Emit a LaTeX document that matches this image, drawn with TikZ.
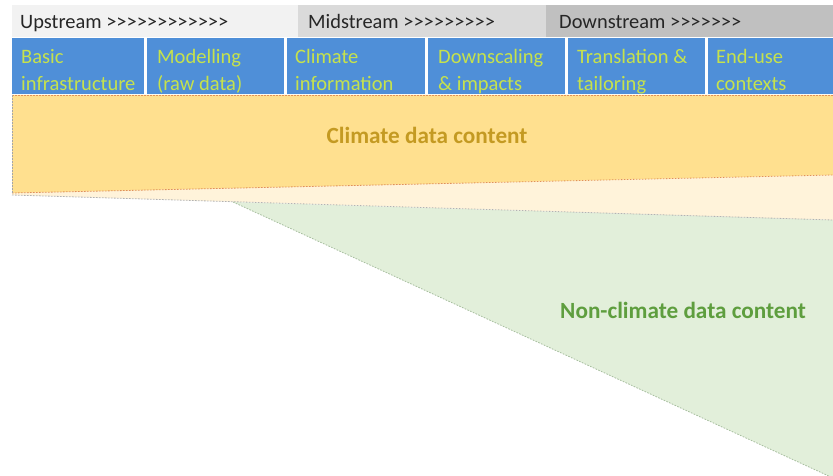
\documentclass[tikz,border=0pt]{standalone}
\usepackage{fontspec}
\setmainfont{Carlito}[Ligatures=TeXOff]
\begin{document}
\begin{tikzpicture}[x=1bp,y=-1bp,
  headtext/.style={anchor=base west,inner sep=0pt,text=headink,font=\fontsize{20.5}{22}\selectfont},
  celltxt/.style={anchor=north west,inner sep=0pt,align=left,text=cellink,font=\fontsize{20.6}{27}\selectfont},
  bigtext/.style={inner sep=0pt,font=\fontsize{23.3}{26}\selectfont\bfseries},
  dashline/.style={line width=0.8bp,dash pattern=on 1.6bp off 1.4bp}]
\definecolor{upband}{HTML}{F2F2F2}
\definecolor{midband}{HTML}{DADADA}
\definecolor{downband}{HTML}{C0C0C0}
\definecolor{headink}{HTML}{262626}
\definecolor{cellblue}{HTML}{4F8FD8}
\definecolor{cellink}{HTML}{C6E24C}
\definecolor{climfill}{HTML}{FFE08F}
\definecolor{climfade}{HTML}{FFF3DA}
\definecolor{climline}{HTML}{E0905A}
\definecolor{climtext}{HTML}{C49A22}
\definecolor{nonfill}{HTML}{E2EFDA}
\definecolor{nonline}{HTML}{A8BFA0}
\definecolor{nontext}{HTML}{5E9E3E}
% equal first-line height for the two-line stage labels
\newcommand{\firstline}{\rule{0pt}{14bp}}

\useasboundingbox[fill=white] (0,0) rectangle (833,476);

% stream header bands
\fill[upband] (12,5) rectangle (298,37);
\fill[midband] (298,5) rectangle (546,37);
\fill[downband] (546,5) rectangle (833,37);
\node[headtext] (up) at (20,29) {Upstream >>>>>>>>>>>>};
\node[headtext] (mid) at (308,29) {Midstream >>>>>>>>>};
\node[headtext] (down) at (559,29) {Downstream >>>>>>>};

% stage cells
\fill[cellblue] (12,38) rectangle (144,94);
\fill[cellblue] (147,38) rectangle (284,94);
\fill[cellblue] (287,38) rectangle (425,94);
\fill[cellblue] (428,38) rectangle (565,94);
\fill[cellblue] (568,38) rectangle (705,94);
\fill[cellblue] (708,38) rectangle (833,94);
\node[celltxt] (s1) at (21,49) {\firstline Basic\\infrastructure};
\node[celltxt] (s2) at (157,49) {\firstline Modelling\\(raw data)};
\node[celltxt] (s3) at (295,49) {\firstline Climate\\information};
\node[celltxt] (s4) at (438,49) {\firstline Downscaling\\\& impacts};
\node[celltxt] (s5) at (577,49) {\firstline Translation \&\\tailoring};
\node[celltxt] (s6) at (716,49) {\firstline End-use\\contexts};

% climate data band and its pale fringe
\fill[climfade] (12,193) -- (833,175) -- (833,220) -- (12,195) -- cycle;
\fill[climfill] (12,95) -- (833,95) -- (833,175) -- (12,193) -- cycle;
\draw[dashline,climline] (12,95) -- (833,95);
\draw[dashline,climline] (12,193) -- (833,175);
\draw[dashline,gray!70] (12,95) -- (12,193);

% non-climate data wedge
\fill[nonfill] (233,202) -- (833,220) -- (833,478) -- cycle;
\draw[dashline,gray!60] (12,195) -- (833,220);
\draw[dashline,nonline] (233,202) -- (833,478);

\node[bigtext,text=climtext] (clim) at (427,135) {Climate data content};
\node[bigtext,text=nontext] (nonclim) at (683,310) {Non-climate data content};
\end{tikzpicture}
\end{document}
